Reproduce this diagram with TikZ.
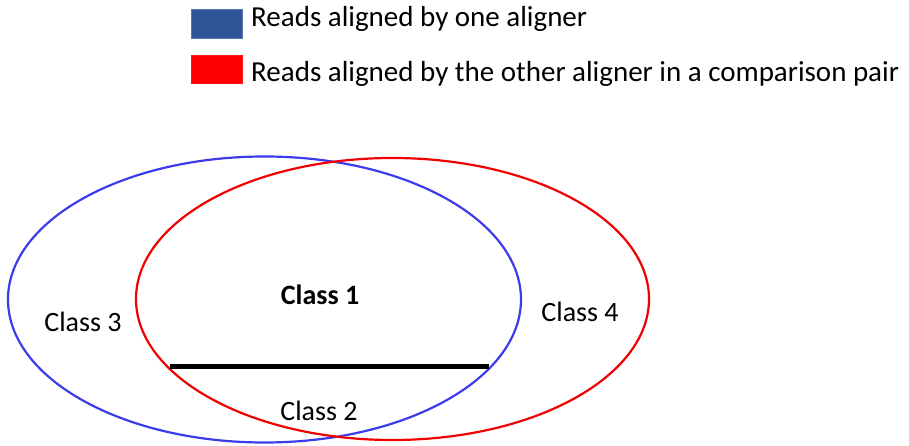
\documentclass[tikz,border=0pt]{standalone}
\usepackage{fontspec}
\setmainfont{Carlito}
\definecolor{legblue}{RGB}{47,85,151}
\definecolor{ellblue}{RGB}{60,60,235}
\definecolor{ellred}{RGB}{240,0,0}
\begin{document}
\begin{tikzpicture}[x=1pt,y=-1pt,
  legtext/.style={anchor=base west,inner sep=0pt,font=\fontsize{29}{34}\selectfont},
  cls/.style={inner sep=0pt,anchor=base,font=\fontsize{28}{33}\selectfont},
  ell/.style={line width=2.2pt}]
\useasboundingbox (0,0) rectangle (909,446);
\node[draw=legblue!80!white,fill=legblue,minimum width=51pt,minimum height=29pt,inner sep=0pt] (lb) at (216.5,23.5) {};
\node[draw=red!90!white,fill=red,minimum width=51pt,minimum height=28pt,inner sep=0pt] (lr) at (216.5,69) {};
\node[legtext] (tb) at (251,27) {Reads aligned by one aligner};
\node[legtext] (tr) at (251,82) {Reads aligned by the other aligner in a comparison pair};
\draw[ell,ellblue] (264.5,299.5) ellipse [x radius=256.5, y radius=143];
\draw[ell,ellred] (392.5,299) ellipse [x radius=256.5, y radius=141];
\coordinate (la) at (170,366.5);
\coordinate (lbb) at (489,366.5);
\draw[line width=5pt] (la) -- (lbb);
\node[cls,font=\fontsize{28}{33}\selectfont\bfseries] (c1) at (320,304) {Class 1};
\node[cls] (c3) at (83,331) {Class 3};
\node[cls] (c4) at (580,321) {Class 4};
\node[cls] (c2) at (319,420) {Class 2};
\end{tikzpicture}
\end{document}
